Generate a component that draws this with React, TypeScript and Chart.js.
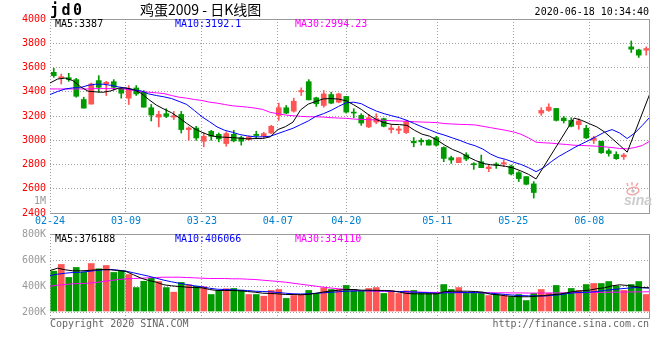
import React, { useEffect, useRef } from 'react';
import { Chart, registerables } from 'chart.js';

Chart.register(...registerables);

// ---------------- data ----------------
const DATES = [
  '02-24', '02-25', '02-26', '02-27', '02-28',
  '03-02', '03-03', '03-04', '03-05', '03-06',
  '03-09', '03-10', '03-11', '03-12', '03-13',
  '03-16', '03-17', '03-18', '03-19', '03-20',
  '03-23', '03-24', '03-25', '03-26', '03-27',
  '03-30', '03-31', '04-01', '04-02', '04-03',
  '04-07', '04-08', '04-09', '04-10',
  '04-13', '04-14', '04-15', '04-16', '04-17',
  '04-20', '04-21', '04-22', '04-23', '04-24',
  '04-27', '04-28', '04-29', '04-30',
  '05-06', '05-07', '05-08',
  '05-11', '05-12', '05-13', '05-14', '05-15',
  '05-18', '05-19', '05-20', '05-21', '05-22',
  '05-25', '05-26', '05-27', '05-28', '05-29',
  '06-01', '06-02', '06-03', '06-04', '06-05',
  '06-08', '06-09', '06-10', '06-11', '06-12',
  '06-15', '06-16', '06-17', '06-18',
];

const TICK_DATES = ['02-24', '03-09', '03-23', '04-07', '04-20', '05-11', '05-25', '06-08'];

const OPEN = [
  3560, 3513, 3516, 3500, 3336, 3298, 3492, 3464, 3483, 3423,
  3347, 3431, 3396, 3268, 3191, 3219, 3191, 3213, 3088, 3101,
  2992, 3074, 3049, 2973, 3049, 3022, 3006, 3049, 3033, 3060,
  3205, 3268, 3240, 3399, 3483, 3350, 3287, 3377, 3314, 3361,
  3232, 3205, 3110, 3150, 3178, 3088, 3082, 3063, 2992, 3000,
  3000, 3022, 2940, 2856, 2815, 2880, 2807, 2823, 2766, 2804,
  2804, 2787, 2733, 2700, 2640, 3224, 3246, 3262, 3183, 3164,
  3129, 3099, 3000, 2992, 2913, 2883, 2864, 3770, 3745, 3743,
];
const HIGH = [
  3593, 3546, 3552, 3511, 3355, 3472, 3533, 3486, 3500, 3437,
  3451, 3451, 3410, 3295, 3240, 3260, 3238, 3238, 3110, 3115,
  3060, 3082, 3060, 3069, 3082, 3033, 3033, 3074, 3066, 3123,
  3306, 3287, 3347, 3432, 3500, 3355, 3410, 3396, 3388, 3361,
  3260, 3219, 3213, 3219, 3183, 3129, 3115, 3164, 3022, 3014,
  3006, 3033, 2946, 2869, 2858, 2897, 2815, 2878, 2796, 2815,
  2837, 2796, 2741, 2700, 2659, 3268, 3301, 3262, 3197, 3186,
  3178, 3123, 3033, 2992, 2929, 2905, 2891, 3819, 3751, 3770,
];
const LOW = [
  3519, 3464, 3486, 3355, 3265, 3298, 3396, 3369, 3415, 3347,
  3295, 3369, 3273, 3159, 3110, 3186, 3170, 3060, 3000, 3000,
  2946, 3000, 2987, 2951, 2987, 2960, 3000, 3014, 3022, 3055,
  3164, 3219, 3232, 3369, 3333, 3279, 3273, 3301, 3309, 3224,
  3186, 3123, 3104, 3137, 3110, 3060, 3055, 3055, 2946, 2960,
  2960, 2951, 2823, 2809, 2815, 2831, 2760, 2774, 2741, 2768,
  2782, 2714, 2659, 2632, 2523, 3205, 3238, 3159, 3142, 3110,
  3090, 3014, 2973, 2891, 2869, 2842, 2842, 3724, 3683, 3702,
];
const CLOSE = [
  3533, 3524, 3502, 3363, 3265, 3464, 3437, 3478, 3437, 3388,
  3423, 3382, 3273, 3208, 3213, 3197, 3202, 3088, 3101, 3019,
  3033, 3033, 3011, 3055, 2995, 2992, 3028, 3039, 3055, 3115,
  3268, 3224, 3322, 3410, 3333, 3301, 3382, 3306, 3382, 3232,
  3224, 3142, 3186, 3178, 3115, 3101, 3093, 3156, 2979, 2987,
  2960, 2960, 2850, 2837, 2856, 2845, 2798, 2774, 2779, 2796,
  2815, 2722, 2684, 2637, 2569, 3246, 3273, 3164, 3161, 3115,
  3159, 3019, 3019, 2897, 2891, 2848, 2878, 3751, 3702, 3756,
];

const MA5 = [
  3472, 3505, 3513, 3492, 3442, 3405, 3399, 3396, 3407, 3429,
  3432, 3418, 3388, 3336, 3290, 3257, 3227, 3186, 3139, 3096,
  3066, 3041, 3028, 3025, 3022, 3017, 3011, 3014, 3014, 3028,
  3088, 3112, 3150, 3251, 3298, 3320, 3341, 3344, 3339, 3325,
  3292, 3254, 3208, 3170, 3145, 3131, 3129, 3123, 3082, 3050,
  3033, 3000, 2959, 2924, 2899, 2864, 2834, 2809, 2798, 2793,
  2785, 2771, 2747, 2719, 2681, null, null, null, null, 3183,
  3164, 3137, 3110, 3069, 3014, 2959, 2902, null, null, 3387,
];
const MA10 = [
  3377, 3402, 3423, 3432, 3434, 3453, 3462, 3462, 3453, 3440,
  3429, 3415, 3407, 3382, 3369, 3358, 3344, 3320, 3295, 3246,
  3194, 3153, 3110, 3082, 3066, 3047, 3036, 3028, 3028, 3033,
  3055, 3077, 3099, 3129, 3159, 3197, 3219, 3246, 3279, 3309,
  3314, 3301, 3268, 3240, 3219, 3202, 3186, 3164, 3137, 3110,
  3085, 3060, 3041, 3019, 2998, 2973, 2954, 2927, 2886, 2858,
  2842, 2820, 2801, 2774, 2741, 2774, 2823, 2867, 2902, 2938,
  2970, 3000, 3033, 3066, 3088, 3060, 3014, 3060, 3123, 3192.1,
];
const MA30 = [
  3423, 3423, 3423, 3423, 3423, 3423, 3426, 3426, 3426, 3426,
  3421, 3412, 3402, 3396, 3391, 3385, 3369, 3355, 3347, 3336,
  3328, 3314, 3306, 3295, 3284, 3279, 3273, 3265, 3254, 3230,
  3219, 3208, 3202, 3197, 3194, 3194, 3191, 3186, 3183, 3181,
  3175, 3172, 3170, 3167, 3164, 3161, 3159, 3156, 3153, 3150,
  3148, 3145, 3137, 3134, 3131, 3129, 3126, 3115, 3104, 3093,
  3082, 3069, 3050, 3020, 2984, 2979, 2976, 2970, 2965, 2959,
  2957, 2954, 2951, 2946, 2940, 2932, 2929, 2940, 2957, 2994.23,
];

const VOLUME = [
  517000, 568000, 469000, 545000, 509000, 575000, 535000, 560000, 507000, 522000,
  491000, 392000, 440000, 463000, 438000, 392000, 357000, 431000, 413000, 402000,
  398000, 339000, 364000, 383000, 385000, 372000, 339000, 339000, 326000, 370000,
  377000, 309000, 331000, 339000, 370000, 347000, 390000, 377000, 377000, 408000,
  377000, 364000, 385000, 392000, 347000, 367000, 347000, 367000, 370000, 347000,
  347000, 347000, 415000, 377000, 392000, 352000, 352000, 352000, 331000, 339000,
  331000, 322000, 339000, 293000, 347000, 377000, 349000, 408000, 349000, 385000,
  370000, 415000, 423000, 423000, 438000, 405000, 370000, 415000, 438000, 339000,
];
const VOL_MA5 = [
  521900, 539500, 527200, 519600, 519600, 521900, 527200, 529500, 527200, 521900,
  514300, 489100, 463200, 445700, 432800, 413000, 405300, 400000, 394700, 392400,
  390100, 377100, 369500, 369500, 369500, 367200, 361900, 356600, 349000, 346700,
  344400, 339000, 339000, 336800, 340000, 348000, 358000, 366000, 372000, 377000,
  377000, 372000, 372000, 370000, 370000, 367000, 357000, 347000, 344000, 344000,
  344000, 344000, 362000, 364000, 364000, 364000, 362000, 357000, 341000, 337000,
  329000, 324000, 322000, 322000, 326000, 331000, 337000, 341000, 352000, 362000,
  367000, 372000, 383000, 390000, 405000, 413000, 408000, 400000, 392000, 390000,
];
const VOL_MA10 = [
  483800, 493700, 501300, 506700, 509000, 514300, 521900, 527200, 529500, 524200,
  516600, 504400, 491400, 478500, 463200, 448000, 435800, 425100, 415200, 405300,
  397700, 387000, 379400, 377100, 374900, 371800, 369500, 364200, 361900, 359600,
  354300, 349000, 344400, 343000, 345000, 348000, 352000, 356000, 360000, 364000,
  365000, 367000, 367000, 367000, 366000, 364000, 362000, 360000, 357000, 354000,
  352000, 349000, 352000, 352000, 354000, 354000, 354000, 352000, 349000, 344000,
  339000, 334000, 331000, 329000, 329000, 327000, 332000, 337000, 345000, 352000,
  355000, 357000, 362000, 370000, 376000, 382000, 387000, 392000, 390000, 388000,
];
const VOL_MA30 = [
  402300, 409900, 415200, 420600, 422900, 425100, 430500, 438100, 445700, 453300,
  458600, 461000, 463200, 466300, 468600, 470800, 470800, 470800, 468600, 466300,
  463200, 461000, 461000, 461000, 458600, 458600, 455600, 453300, 448000, 443400,
  438100, 432800, 425100, 417500, 409900, 402300, 394700, 388000, 383000, 378000,
  372000, 369000, 367000, 365000, 364000, 362000, 361000, 360000, 358000, 357000,
  355000, 355000, 354000, 354000, 353000, 353000, 353000, 352000, 352000, 352000,
  352000, 351000, 351000, 350000, 350000, 350000, 351000, 351000, 352000, 353000,
  353000, 354000, 355000, 356000, 356000, 357000, 358000, 359000, 359000, 360000,
];

const PRICE_TICKS = [2400, 2600, 2800, 3000, 3200, 3400, 3600, 3800, 4000];
const VOLUME_TICKS = [200000, 400000, 600000, 800000];

const TITLE_CODE = 'jd0';
const TITLE_NAME = '鸡蛋2009 - 日K线图';
const TIMESTAMP = '2020-06-18 10:34:40';
const PRICE_LEGEND = ['MA5:3387', 'MA10:3192.1', 'MA30:2994.23'];
const VOLUME_LEGEND = ['MA5:376188', 'MA10:406066', 'MA30:334110'];
const COPYRIGHT = 'Copyright 2020 SINA.COM';
const SOURCE_URL = 'http://finance.sina.com.cn';

// ---------------- styles ----------------
const MONO = '"DejaVu Sans Mono", "Liberation Mono", monospace';
const UP = '#ff5555';
const DOWN = '#009900';
const GRID = '#a0a0a0';
const FRAME = '#999999';
const MA_COLORS = ['#000000', '#0000ff', '#ff00ff'];
const DATE_COLOR = '#0080d0';
const PRICE_LABEL_COLOR = '#ff0000';
const VOL_LABEL_COLOR = '#999999';
const VOLUME_AXIS = { min: 160000, max: 800000, barBase: 213000 };

const N = DATES.length;
// Sina spreads grid lines and MA polylines over N-1 intervals across the plot
const lineX = (i: number) => (i * N) / (N - 1) - 0.5;
const candleColor = (i: number) => (CLOSE[i] >= OPEN[i] ? UP : DOWN);

const xAxis = (height: number, showLabels: boolean) => ({
  type: 'linear',
  min: -0.5,
  max: N - 0.5,
  offset: false,
  afterBuildTicks: (scale: any) => {
    scale.ticks = TICK_DATES.map((d) => ({ value: lineX(DATES.indexOf(d)) }));
  },
  afterFit: (scale: any) => {
    scale.height = height;
  },
  ticks: {
    display: showLabels,
    autoSkip: false,
    maxRotation: 0,
    minRotation: 0,
    padding: 2,
    color: DATE_COLOR,
    font: { family: MONO, size: 10 },
    callback: (_v: any, idx: number) => TICK_DATES[idx],
  },
  grid: { color: GRID, lineWidth: 1, drawTicks: false, offset: false },
  border: { display: false, dash: [1, 2] },
});

const framePlugin = (drawText: (ctx: CanvasRenderingContext2D) => void) => ({
  id: 'sinaFrame',
  afterDraw(chart: any) {
    const { ctx, chartArea: a } = chart;
    const l = Math.round(a.left);
    const r = Math.round(a.right);
    const t = Math.round(a.top);
    const b = Math.round(a.bottom);
    ctx.save();
    ctx.strokeStyle = FRAME;
    ctx.lineWidth = 1;
    ctx.setLineDash([]);
    ctx.beginPath();
    ctx.moveTo(l, t + 0.5);
    ctx.lineTo(r, t + 0.5);
    ctx.moveTo(r - 0.5, t);
    ctx.lineTo(r - 0.5, b + 1);
    ctx.moveTo(l, b + 0.5);
    ctx.lineTo(r, b + 0.5);
    ctx.stroke();
    drawText(ctx);
    ctx.restore();
  },
});

const drawLegend = (ctx: CanvasRenderingContext2D, items: string[], y: number) => {
  ctx.font = `10px ${MONO}`;
  ctx.textBaseline = 'middle';
  ctx.textAlign = 'left';
  const xs = [55, 175, 295];
  items.forEach((t, i) => {
    ctx.fillStyle = MA_COLORS[i];
    ctx.fillText(t, xs[i], y);
  });
};

const maLine = (values: (number | null)[], color: string, order: number, yAxisID = 'y') => ({
  type: 'line',
  data: values.map((v, i) => ({ x: lineX(i), y: v })),
  borderColor: color,
  borderWidth: 1,
  pointRadius: 0,
  spanGaps: true,
  tension: 0,
  order,
  yAxisID,
});

export default function App() {
  const priceRef = useRef<HTMLCanvasElement>(null);
  const volRef = useRef<HTMLCanvasElement>(null);

  useEffect(() => {
    const priceChart = new Chart(priceRef.current as HTMLCanvasElement, {
      type: 'bar',
      data: {
        datasets: [
          maLine(MA5, MA_COLORS[0], 0),
          maLine(MA10, MA_COLORS[1], 1),
          maLine(MA30, MA_COLORS[2], 2),
          {
            type: 'bar',
            data: DATES.map((_, i) => ({ x: i, y: [OPEN[i], CLOSE[i]] })),
            backgroundColor: DATES.map((_, i) => candleColor(i)),
            barThickness: 5,
            minBarLength: 1,
            grouped: false,
            borderWidth: 0,
            order: 3,
          },
          {
            type: 'bar',
            data: DATES.map((_, i) => ({ x: i, y: [LOW[i], HIGH[i]] })),
            backgroundColor: DATES.map((_, i) => candleColor(i)),
            barThickness: 1,
            grouped: false,
            borderWidth: 0,
            order: 4,
          },
        ] as any,
      },
      options: {
        animation: false,
        responsive: false,
        events: [],
        layout: { padding: { top: 19, right: 10, left: 0, bottom: 0 } },
        plugins: { legend: { display: false }, tooltip: { enabled: false } },
        scales: {
          x: xAxis(19, true) as any,
          y: {
            type: 'linear',
            min: 2400,
            max: 4000,
            afterBuildTicks: (scale: any) => {
              scale.ticks = PRICE_TICKS.map((v) => ({ value: v }));
            },
            afterFit: (scale: any) => {
              scale.width = 50;
            },
            ticks: {
              padding: 4,
              color: PRICE_LABEL_COLOR,
              font: { family: MONO, size: 10 },
              callback: (v: any) => String(v),
            },
            grid: { color: GRID, lineWidth: 1, drawTicks: false },
            border: { display: false, dash: [1, 2] },
          },
        },
      },
      plugins: [
        framePlugin((ctx) => {
          // title
          ctx.fillStyle = '#000';
          ctx.textBaseline = 'alphabetic';
          ctx.textAlign = 'left';
          ctx.font = `bold 15px ${MONO}`;
          (ctx as any).letterSpacing = '2.5px';
          ctx.fillText(TITLE_CODE, 50, 15);
          (ctx as any).letterSpacing = '0px';
          ctx.font = '14px "Noto Sans CJK SC", sans-serif';
          ctx.textBaseline = 'middle';
          ctx.fillText(TITLE_NAME, 140, 10);
          ctx.font = `10px ${MONO}`;
          ctx.textAlign = 'right';
          ctx.fillText(TIMESTAMP, 649, 12);
          drawLegend(ctx, PRICE_LEGEND, 24);
          // stray volume unit label on the price axis
          ctx.fillStyle = VOL_LABEL_COLOR;
          ctx.textAlign = 'right';
          ctx.font = `10px ${MONO}`;
          ctx.fillText('1M', 46, 201);
          // sina watermark
          ctx.strokeStyle = '#f2a8a8';
          ctx.lineWidth = 1.5;
          ctx.beginPath();
          ctx.ellipse(633, 191, 6, 3.5, -0.2, 0, Math.PI * 2);
          ctx.stroke();
          ctx.beginPath();
          ctx.moveTo(628, 186); ctx.lineTo(627, 183);
          ctx.moveTo(632, 185.5); ctx.lineTo(632, 182);
          ctx.moveTo(636, 186); ctx.lineTo(638, 183);
          ctx.stroke();
          ctx.fillStyle = '#c4c4c4';
          ctx.beginPath();
          ctx.arc(633, 191, 1.8, 0, Math.PI * 2);
          ctx.fill();
          ctx.fillStyle = '#cccccc';
          ctx.textAlign = 'left';
          ctx.textBaseline = 'alphabetic';
          ctx.font = 'italic bold 14px "Liberation Sans", Arial, sans-serif';
          ctx.fillText('sina', 624, 205);
        }),
      ],
    } as any);

    const volChart = new Chart(volRef.current as HTMLCanvasElement, {
      type: 'bar',
      data: {
        datasets: [
          maLine(VOL_MA5, MA_COLORS[0], 0),
          maLine(VOL_MA10, MA_COLORS[1], 1),
          maLine(VOL_MA30, MA_COLORS[2], 2),
          {
            type: 'bar',
            data: DATES.map((_, i) => ({ x: i, y: VOLUME[i] })),
            backgroundColor: DATES.map((_, i) => candleColor(i)),
            barThickness: 6,
            base: VOLUME_AXIS.barBase,
            grouped: false,
            borderWidth: 0,
            order: 3,
          },
        ] as any,
      },
      options: {
        animation: false,
        responsive: false,
        events: [],
        layout: { padding: { top: 12, right: 10, left: 0, bottom: 0 } },
        plugins: { legend: { display: false }, tooltip: { enabled: false } },
        scales: {
          x: xAxis(42, false) as any,
          y: {
            type: 'linear',
            min: VOLUME_AXIS.min,
            max: VOLUME_AXIS.max,
            afterBuildTicks: (scale: any) => {
              scale.ticks = VOLUME_TICKS.map((v) => ({ value: v }));
            },
            afterFit: (scale: any) => {
              scale.width = 50;
            },
            ticks: {
              padding: 4,
              color: VOL_LABEL_COLOR,
              font: { family: MONO, size: 10 },
              callback: (v: any) => `${Math.round(v / 1000)}K`,
            },
            grid: { color: GRID, lineWidth: 1, drawTicks: false },
            border: { display: false, dash: [1, 2] },
          },
        },
      },
      plugins: [
        framePlugin((ctx) => {
          drawLegend(ctx, VOLUME_LEGEND, 17);
          ctx.fillStyle = '#666666';
          ctx.font = `10px ${MONO}`;
          ctx.textBaseline = 'middle';
          ctx.textAlign = 'left';
          ctx.fillText(COPYRIGHT, 50, 102);
          ctx.textAlign = 'right';
          ctx.fillText(SOURCE_URL, 649, 102);
        }),
      ],
    } as any);

    return () => {
      priceChart.destroy();
      volChart.destroy();
    };
  }, []);

  return (
    <div style={{ position: 'fixed', left: 0, top: 0, width: 660, height: 360, background: '#ffffff' }}>
      <canvas ref={priceRef} width={660} height={232} style={{ position: 'absolute', left: 0, top: 0 }} />
      <canvas ref={volRef} width={660} height={138} style={{ position: 'absolute', left: 0, top: 222 }} />
    </div>
  );
}
